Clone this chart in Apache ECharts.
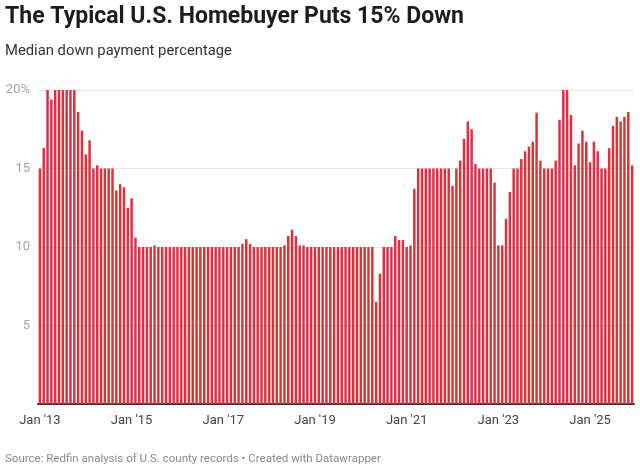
<!DOCTYPE html>
<html>
<head>
<meta charset="utf-8">
<title>The Typical U.S. Homebuyer Puts 15% Down</title>
<script src="https://cdn.jsdelivr.net/npm/echarts@6/dist/echarts.min.js"></script>
<style>
  html, body { margin: 0; padding: 0; background: #fff; }
  #chart { width: 640px; height: 469px; }
</style>
</head>
<body>
<div id="chart"></div>
<script>
// monthly median down payment, Jan 2013 onwards (percent)
const startYear = 2013
const downPct = [
  15, 16.3, 20, 19.4, 20, 20, 20, 20, 20, 20, 18.6, 17.4,
  15.9, 16.8, 15, 15.2, 15, 15, 15, 15, 13.6, 14, 13.8, 12.5,
  13.1, 10.6, 10, 10, 10, 10, 10.1, 10, 10, 10, 10, 10,
  10, 10, 10, 10, 10, 10, 10, 10, 10, 10, 10, 10,
  10, 10, 10, 10, 10, 10.2, 10.5, 10.2, 10, 10, 10, 10,
  10, 10, 10, 10, 10.1, 10.7, 11.1, 10.7, 10.1, 10.1, 10, 10,
  10, 10, 10, 10, 10, 10, 10, 10, 10, 10, 10, 10,
  10, 10, 10, 10, 6.5, 8.3, 10, 10, 10, 10.7, 10.45, 10.45,
  10, 10.1, 13.7, 15, 15, 15, 15, 15, 15, 15, 15, 15,
  13.9, 15, 15.5, 16.9, 18, 17.5, 15.3, 15, 15, 15, 15, 14.1,
  10.1, 10.1, 11.8, 13.5, 15, 15, 15.6, 16.1, 16.4, 16.7, 18.55, 15.5,
  15, 15, 15, 15.5, 18.1, 20, 20, 18.4, 15.2, 16.6, 17.4, 16.7,
  15.4, 16.7, 16.1, 15, 15, 16.3, 17.7, 18.3, 18, 18.3, 18.6, 15.2
]
const tickLabels = ["Jan '13", "Jan '15", "Jan '17", "Jan '19", "Jan '21", "Jan '23", "Jan '25"]
const yTicks = [5, 10, 15, 20]

const months = downPct.map((v, i) => (startYear + Math.floor(i / 12)) + '-' + String(i % 12 + 1).padStart(2, '0'))

const chart = echarts.init(document.getElementById('chart'))

chart.setOption({
  animation: false,
  textStyle: { fontFamily: 'Roboto, sans-serif' },
  title: [
    {
      text: 'The Typical U.S. Homebuyer Puts 15% Down',
      left: 0, top: 1,
      textStyle: { fontSize: 23, fontWeight: 'bold', color: '#1d1d1d', fontFamily: 'Roboto' }
    },
    {
      text: 'Median down payment percentage',
      left: 0, top: 39,
      textStyle: { fontSize: 14.8, fontWeight: 'normal', color: '#333', fontFamily: 'Roboto' }
    },
    {
      text: 'Source: Redfin analysis of U.S. county records \u2022 Created with Datawrapper',
      left: 0, top: 448,
      textStyle: { fontSize: 11.5, fontWeight: 'normal', color: '#888', fontFamily: 'Roboto' }
    }
  ],
  grid: { left: 38, right: 6, top: 90, bottom: 65 },
  xAxis: {
    type: 'category',
    data: months,
    axisTick: { show: false },
    axisLine: { lineStyle: { color: '#333', width: 2 } },
    axisLabel: {
      interval: (index) => index % 24 === 0,
      formatter: (val, index) => tickLabels[Math.floor(index / 24)],
      color: '#444',
      fontSize: 13,
      margin: 10
    }
  },
  yAxis: {
    type: 'value',
    min: 0,
    max: 20,
    interval: 5,
    axisLine: { show: false },
    axisTick: { show: false },
    splitLine: { lineStyle: { color: '#e6e6e6', width: 1 } },
    axisLabel: {
      color: '#a3a3a3',
      fontSize: 13,
      margin: 8,
      formatter: (v) => {
        if (!yTicks.includes(v)) return ''
        return v === 20 ? '20%' : String(v)
      }
    }
  },
  series: [
    {
      type: 'bar',
      data: downPct,
      barCategoryGap: '35%',
      itemStyle: { color: '#e0303e' }
    }
  ]
})
</script>
</body>
</html>
